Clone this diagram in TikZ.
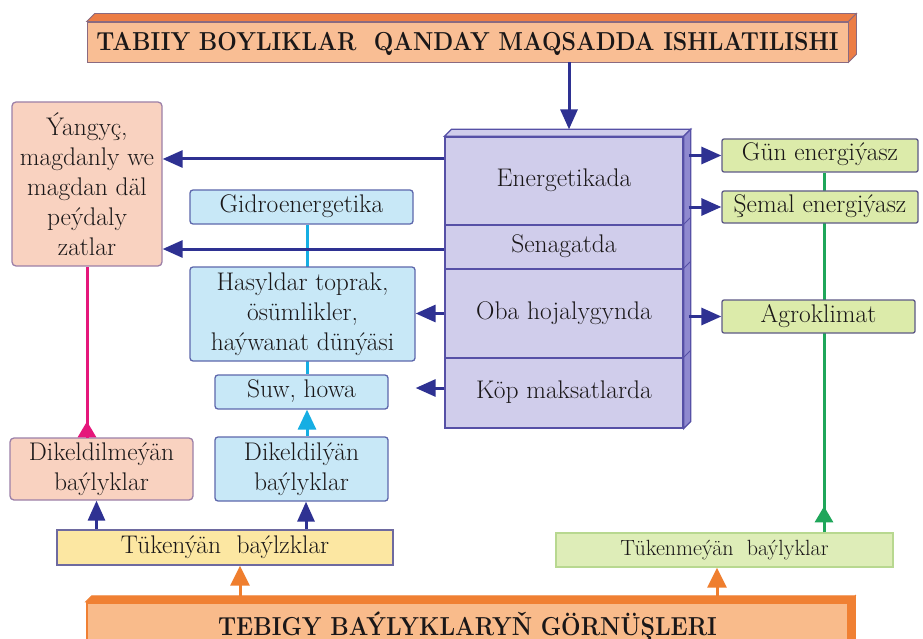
\documentclass[tikz,border=0pt]{standalone}
\usepackage{fontspec}
\usepackage{graphicx}
\usetikzlibrary{arrows.meta,calc,backgrounds}
\definecolor{txt}{HTML}{1A1718}
\definecolor{navy}{HTML}{2E3192}
\definecolor{titleF}{HTML}{F9BE94}
\definecolor{titleTop}{HTML}{EC7D45}
\definecolor{titleD}{HTML}{8A6A80}
\definecolor{botF}{HTML}{F9BB8B}
\definecolor{botD}{HTML}{F08033}
\definecolor{lav}{HTML}{D0CDEB}
\definecolor{lavD}{HTML}{5650A6}
\definecolor{lavSide}{HTML}{8F89CF}
\definecolor{peachF}{HTML}{F9D2C0}
\definecolor{peachD}{HTML}{9C80A8}
\definecolor{blueF}{HTML}{C8E8F7}
\definecolor{blueD}{HTML}{5D67AC}
\definecolor{greenF}{HTML}{DCEBAA}
\definecolor{greenD}{HTML}{5E5A86}
\definecolor{yellowF}{HTML}{FCE7A2}
\definecolor{yellowD}{HTML}{6E6AA0}
\definecolor{tukmF}{HTML}{DEEDB8}
\definecolor{tukmD}{HTML}{B8D890}
\definecolor{pinkc}{HTML}{E5177B}
\definecolor{cyanc}{HTML}{16AEE3}
\definecolor{greenc}{HTML}{1FA65A}
\definecolor{orangec}{HTML}{EF7E2E}
\newcommand{\bartext}[1]{\scalebox{0.89}[1]{#1}}
\begin{document}
\begin{tikzpicture}[x=1pt,y=1pt,
  every node/.style={inner sep=0pt, text=txt},
  bx/.style={rectangle, align=center, line width=1.3pt, font=\fontsize{25.5}{30}\selectfont},
  one/.style={text height=17pt, text depth=6pt},
  peachbox/.style={bx, rounded corners=4pt, fill=peachF, draw=peachD},
  bluebox/.style={bx, rounded corners=3pt, fill=blueF, draw=blueD},
  greenbox/.style={bx, one, rounded corners=2pt, fill=greenF, draw=greenD},
  sect/.style={bx, one, fill=lav, draw=lavD, minimum width=238pt},
  bar/.style={rectangle, font=\bfseries\fontsize{26}{30}\selectfont, text height=18pt, text depth=1pt, minimum width=761pt},
  arr/.style={draw=navy, line width=3pt, -{Triangle[length=20pt,width=17pt]}},
  oarr/.style={draw=orangec, line width=3pt, -{Triangle[length=20pt,width=19pt]}},
  pline/.style={draw=pinkc, line width=3pt},
  cline/.style={draw=cyanc, line width=3pt},
  gline/.style={draw=greenc, line width=3pt},
  tip/.style={-{Triangle[length=16pt,width=18pt]}}
]
\useasboundingbox (0,0) rectangle (923,-639);

% title bar
\node[bar, fill=titleF, draw=titleD, line width=0.8pt, minimum height=40pt] (title) at (467.5,-42)
  {\bartext{TABIIY BOYLIKLAR\ \ QANDAY MAQSADDA ISHLATILISHI}};
\filldraw[fill=titleTop, draw=titleD, line width=0.8pt] (title.north west) -- ++(8,8) -- ($(title.north east)+(8,8)$) -- (title.north east) -- cycle;
\filldraw[fill=titleTop, draw=titleD, line width=0.8pt] (title.north east) -- ++(8,8) -- ($(title.south east)+(8,8)$) -- (title.south east) -- cycle;

% bottom bar
\node[bar, fill=botF, draw=botD, line width=2.5pt, minimum height=47pt] (bot) at (467.5,-626.5)
  {\bartext{TEBIGY BAÝLYKLARYŇ GÖRNÜŞLERI}};
\filldraw[fill=botD, draw=botD, line width=1pt] (bot.north west) -- ++(6,6) -- ($(bot.north east)+(6,6)$) -- (bot.north east) -- cycle;
\filldraw[fill=botD, draw=botD, line width=1pt] (bot.north east) -- ++(6,6) -- ($(bot.south east)+(6,6)$) -- (bot.south east) -- cycle;
\coordinate (bt) at ($(bot.north)+(0,6)$);

% center column
\node[sect, minimum height=88pt] (energ) at (564,-181) {Energetikada};
\node[sect, minimum height=44pt] (senag) at (564,-247) {Senagatda};
\node[sect, minimum height=89pt] (oba) at (564,-313.5) {Oba hojalygynda};
\node[sect, minimum height=70pt] (kop) at (564,-393) {Köp maksatlarda};
\filldraw[fill=lav, draw=lavD, line width=1.3pt] (energ.north west) -- ++(7,7) -- ($(energ.north east)+(7,7)$) -- (energ.north east) -- cycle;
\filldraw[fill=lavSide, draw=lavD, line width=1.3pt] (energ.north east) -- ++(7,7) -- ($(kop.south east)+(7,7)$) -- (kop.south east) -- cycle;
\draw[lavD, line width=1pt] (senag.north east) -- ++(7,7);
\draw[lavD, line width=1pt] (oba.north east) -- ++(7,7);
\draw[lavD, line width=1pt] (kop.north east) -- ++(7,7);

% left side
\node[peachbox, minimum width=150pt, minimum height=164pt] (yang) at (87,-184)
  {Ýangyç,\\magdanly we\\magdan däl\\peýdaly\\zatlar};
\node[bluebox, one, minimum width=223pt, minimum height=34pt] (gidro) at (301.5,-207) {Gidroenergetika};
\node[bluebox, minimum width=225pt, minimum height=94pt] (hasyl) at (302.5,-314)
  {Hasyldar toprak,\\ösümlikler,\\haýwanat dünýäsi};
\node[bluebox, one, minimum width=173pt, minimum height=34pt] (suw) at (301.5,-392) {Suw, howa};
\node[peachbox, minimum width=183pt, minimum height=62pt] (dikm) at (101.5,-469)
  {Dikeldilmeýän\\baýlyklar};
\node[bluebox, minimum width=173pt, minimum height=64pt] (dik) at (301.5,-469)
  {Dikeldilýän\\baýlyklar};
\node[bx, one, fill=yellowF, draw=yellowD, minimum width=336pt, minimum height=35pt] (tuk) at (225,-547.5)
  {Tükenýän\ \ baýlzklar};

% right side
\node[greenbox, minimum width=196pt, minimum height=33pt] (gun) at (820,-155.5) {Gün energiýasz};
\node[greenbox, minimum width=196pt, minimum height=32pt] (semal) at (820,-207) {Şemal energiýasz};
\node[greenbox, minimum width=193pt, minimum height=33pt] (agro) at (818.5,-316.5) {Agroklimat};
\node[bx, fill=tukmF, draw=tukmD, line width=1.3pt, minimum width=337pt, minimum height=34pt,
  font=\fontsize{22}{26}\selectfont, text height=15pt, text depth=5pt] (tukm) at (724.5,-550)
  {Tükenmeýän\ \ baýlyklar};

% background: white page, then lines passing behind boxes
\coordinate (c1) at ($(gidro.south)+(5.5,0)$);
\coordinate (g1) at ($(gun.south)+(4,0)$);
\begin{scope}[on background layer]
  \fill[white] (0,0) rectangle (923,-639);
  \draw[cline] (c1) -- (c1 |- suw.north);
  \draw[gline] (g1) -- (g1 |- tukm.north);
\end{scope}

% title arrow
\coordinate (t1) at ($(energ.north)+(5,7)$);
\draw[arr] (t1 |- title.south) -- (t1);

% arrows to the left
\coordinate (a1) at ($(energ.west)+(0,22)$);
\draw[arr] (a1) -- (a1 -| yang.east);
\coordinate (a2) at ($(senag.west)+(0,-2)$);
\draw[arr] (a2) -- (a2 -| yang.east);
\draw[arr] (oba.west) -- (oba.west -| hasyl.east);
\coordinate (a4) at ($(kop.west)+(0,5)$);
\draw[arr] (a4) -- (a4 -| hasyl.east);

% arrows to the right
\coordinate (re) at ($(energ.east)+(5,0)$);
\draw[arr] (re |- gun.west) -- (gun.west);
\draw[arr] (re |- semal.west) -- (semal.west);
\draw[arr] (re |- agro.west) -- (agro.west);

% pink, cyan, green upward
\draw[pline] (yang.south |- dikm.north) -- (yang.south);
\draw[pline, tip] (yang.south |- dikm.north) -- ++(0,16);
\draw[cline, -{Triangle[length=20pt,width=18pt]}] (c1 |- dik.north) -- (c1 |- suw.south);
\draw[gline, tip] (g1 |- tukm.north) -- ++(0,26);

% blue arrows from Tükenýän
\coordinate (b1) at ($(dikm.south)+(-5,0)$);
\draw[arr] (b1 |- tuk.north) -- (b1);
\coordinate (b2) at ($(dik.south)+(4.5,0)$);
\draw[arr] (b2 |- tuk.north) -- (b2);

% orange arrows from bottom bar
\coordinate (o1) at ($(tuk.south)+(15,0)$);
\draw[oarr] (o1 |- bt) -- (o1);
\coordinate (o2) at ($(tukm.south)+(-7.5,0)$);
\draw[oarr] (o2 |- bt) -- (o2);
\end{tikzpicture}
\end{document}
